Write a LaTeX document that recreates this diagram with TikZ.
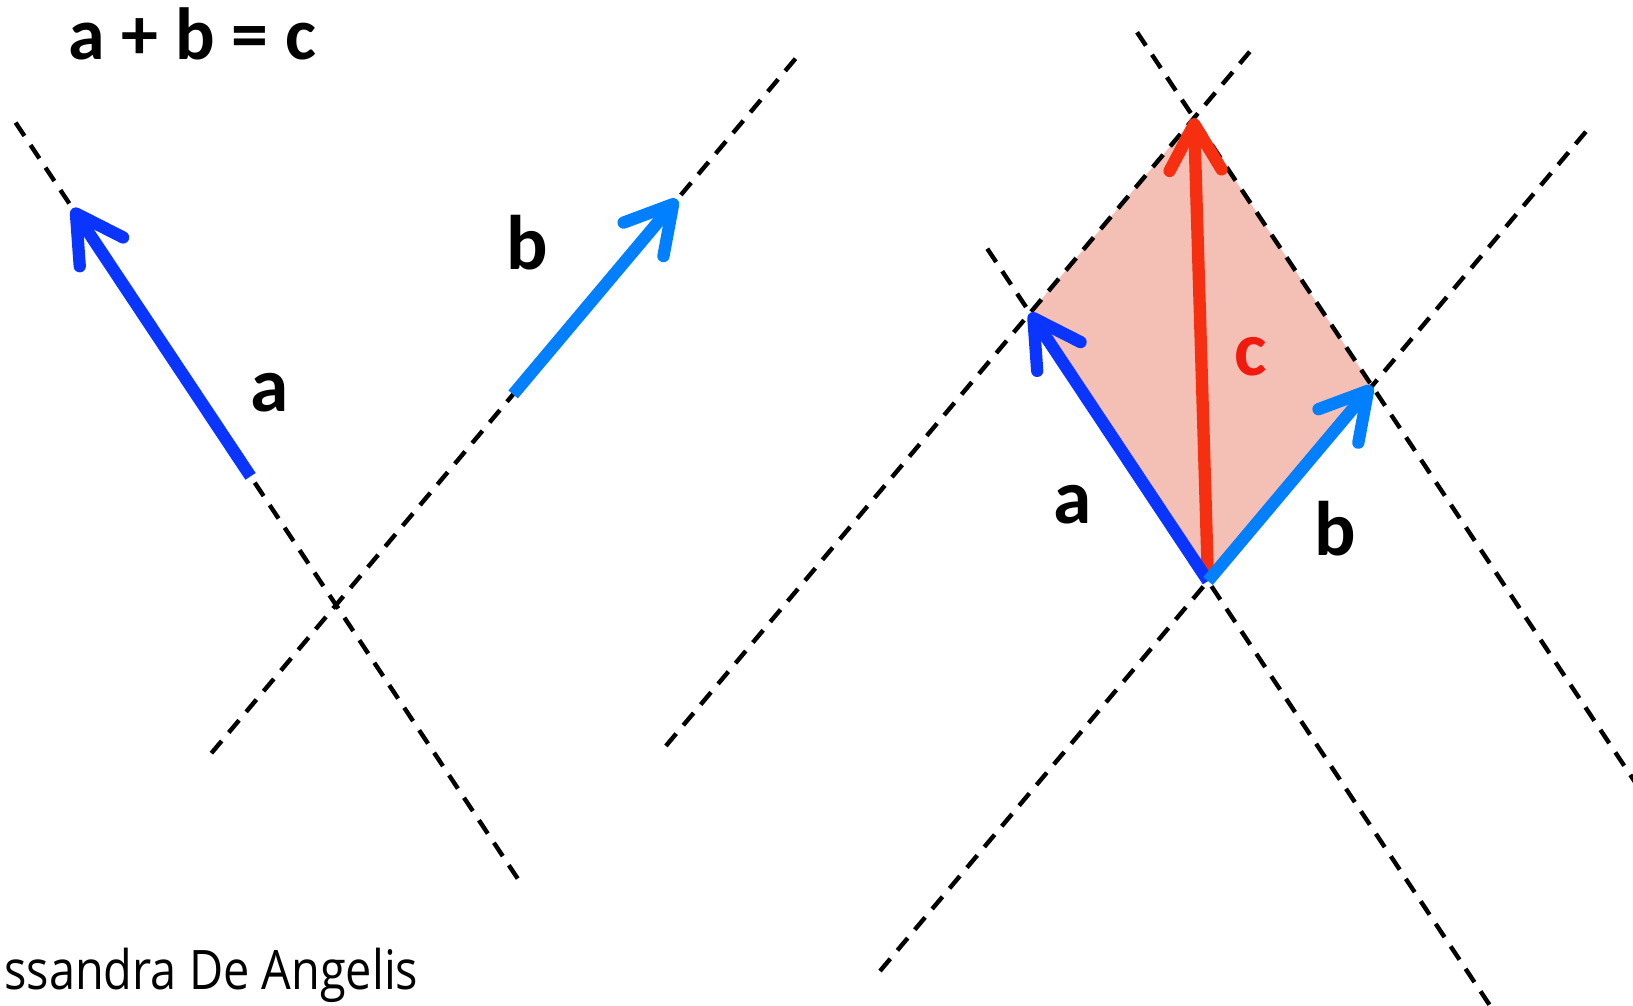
\documentclass[tikz,border=0pt]{standalone}
\usepackage{fontspec}
\setmainfont{Carlito}
\newfontfamily\signfont{Open Sans}
\usepackage{tikz}
\usetikzlibrary{arrows.meta, positioning, calc}
\definecolor{veca}{HTML}{0A34FF}
\definecolor{vecb}{HTML}{0080FF}
\definecolor{vecc}{HTML}{F52F0F}
\definecolor{labc}{HTML}{F01A0F}
\definecolor{sumfill}{HTML}{F4BFB5}

\begin{document}
\begin{tikzpicture}[
  x=0.01cm, y=-0.01cm,
  guide/.style={black, line width=1.25pt, dash pattern=on 0.16cm off 0.11cm},
  vec/.style={line width=3.5pt,
    -{Straight Barb[length=0.46cm, width=0.52cm, round]}},
  lbl/.style={font=\fontsize{22}{26}\selectfont\bfseries, inner sep=0pt},
]
  \useasboundingbox (0,0) rectangle (1633,1006);

  % Crossings and the two vectors
  \coordinate (P) at (336,605);
  \coordinate (O) at (1208,581);
  \coordinate (va) at (-178,-268);
  \coordinate (vb) at (164,-195);

  % Left: free vectors
  \coordinate (a0) at ($(P)+0.48*(va)$);
  \coordinate (a1) at ($(P)+1.48*(va)$);
  \coordinate (b0) at ($(P)+1.08*(vb)$);
  \coordinate (b1) at ($(P)+2.08*(vb)$);
  % Right: parallelogram corners
  \coordinate (A) at ($(O)+(va)$);
  \coordinate (B) at ($(O)+(vb)$);
  \coordinate (C) at ($(O)+(va)+(vb)$);

  % Sum area
  \fill[sumfill] (O) -- (A) -- (C) -- (B) -- cycle;

  % Guide lines
  \draw[guide] ($(P)+1.8*(va)$) -- ($(P)-1.05*(va)$);
  \draw[guide] ($(P)-0.76*(vb)$) -- ($(P)+2.83*(vb)$);
  \draw[guide] ($(O)+1.24*(va)$) -- ($(O)-1.6*(va)$);
  \draw[guide] ($(O)-2.0*(vb)$) -- ($(O)+2.33*(vb)$);
  \draw[guide] ($(A)-2.22*(vb)$) -- ($(A)+1.34*(vb)$);
  \draw[guide] ($(B)+1.32*(va)$) -- ($(B)-1.5*(va)$);

  % Vectors
  \draw[vec, veca] (a0) -- (a1);
  \draw[vec, vecb] (b0) -- (b1);
  \draw[vec, vecc] (O) -- (C);
  \draw[vec, veca] (O) -- (A);
  \draw[vec, vecb] (O) -- (B);

  % Labels
  \node[lbl, font=\fontsize{21}{25}\selectfont\bfseries, anchor=base west]
    (title) at (68,60) {a + b = c};
  \node[lbl] (la) at (270,393) {a};
  \node[lbl] (lb) at (527,243) {b};
  \node[lbl] (ra) at (1073,505) {a};
  \node[lbl] (rb) at (1335,529) {b};
  \node[lbl, labc] (rc) at (1251,357) {c};
  \node[font=\signfont\fontsize{15.5}{19}\selectfont, inner sep=0pt,
    anchor=base east] (sign) at (419,989)
    {\scalebox{0.86}[1]{ssandra De Angelis}};
\end{tikzpicture}
\end{document}
